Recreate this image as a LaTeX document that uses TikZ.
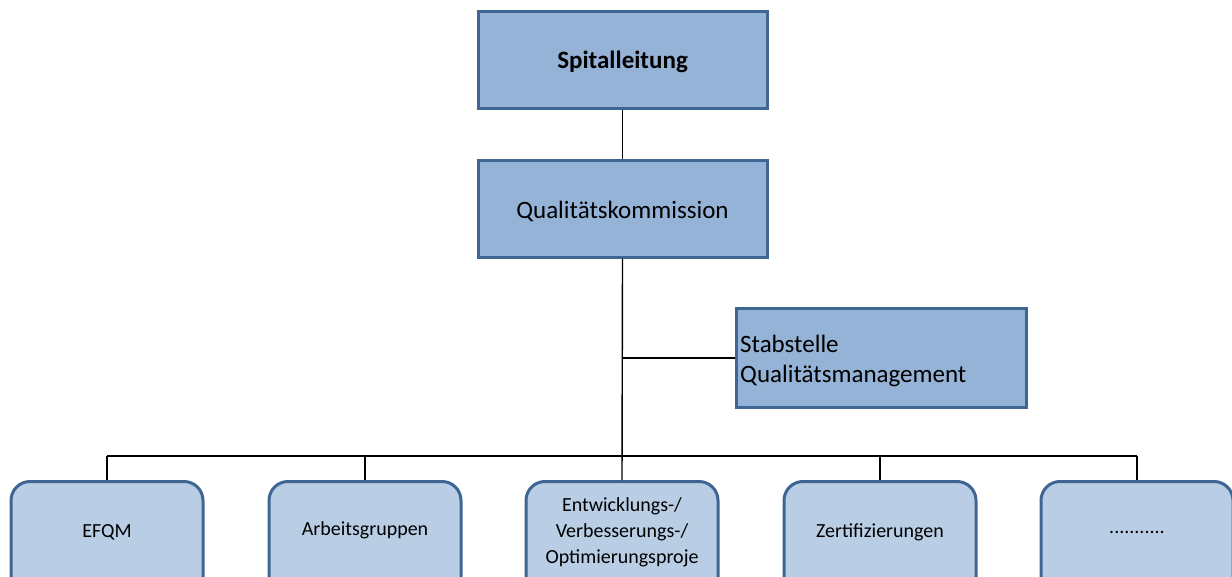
\documentclass[tikz,border=0pt]{standalone}
\usepackage{fontspec}
\setmainfont{Carlito}
\definecolor{boxedge}{HTML}{3F6592}
\definecolor{topfill}{HTML}{95B3D7}
\definecolor{leaffill}{HTML}{B9CDE5}
\begin{document}
\begin{tikzpicture}[x=1pt,y=-1pt,
  topbox/.style={draw=boxedge, fill=topfill, line width=3pt, minimum width=289pt, minimum height=97pt, inner sep=0pt, font=\fontsize{25}{29}\selectfont},
  toptext/.style={font=\fontsize{25}{30}\selectfont, inner sep=0pt},
  leafbox/.style={draw=boxedge, fill=leaffill, line width=3pt, rounded corners=19pt, minimum width=192pt, minimum height=140pt, inner sep=0pt},
  leaftext/.style={font=\fontsize{20}{26}\selectfont, align=center, inner sep=0pt},
  conn/.style={draw=black, line width=1.4pt}]
\useasboundingbox (0,0) rectangle (1232,577);
\clip (0,0) rectangle (1232,577);
% top boxes
\node[topbox] (spital) at (622.5,60.5) {};
\node[toptext, font=\bfseries\fontsize{25}{29}\selectfont] (spitalt) at (622.5,62) {Spitalleitung};
\node[topbox] (qk) at (622.5,209) {};
\node[toptext] (qkt) at (622.5,211) {Qualitätskommission};
\node[topbox, minimum width=290pt, minimum height=98pt] (stab) at (881,358) {};
\node[toptext, anchor=west, align=left] (stabt) at (740,361) {Stabstelle\\Qualitätsmanagement};
% leaf boxes
\node[leafbox, anchor=north] (efqm) at (107,480) {};
\node[leafbox, anchor=north] (arb) at (365,480) {};
\node[leafbox, anchor=north] (ent) at (622,480) {};
\node[leafbox, anchor=north] (zert) at (880,480) {};
\node[leafbox, anchor=north] (dots) at (1137,480) {};
\node[leaftext] (efqmt) at (107,532) {EFQM};
\node[leaftext] (arbt) at (365,530) {Arbeitsgruppen};
\node[leaftext] (entt) at (622,532) {Entwicklungs-/\\Verbesserungs-/\\Optimierungsproje};
\node[leaftext] (zertt) at (880,532) {Zertifizierungen};
\node[leaftext] (dotst) at (1137,532) {...........};
% connectors
\coordinate (j) at (qk.south |- stab.west);
\coordinate (busL) at (efqm.north |- 0,456);
\coordinate (busR) at (dots.north |- 0,456);
\draw[conn] (spital.south) -- (qk.north);
\draw[conn] (qk.south) -- (ent.north);
\draw[conn] (j) -- (stab.west);
\draw[conn] (busL) -- (busR);
\draw[conn] (efqm.north) -- (efqm.north |- busL);
\draw[conn] (arb.north) -- (arb.north |- busL);
\draw[conn] (zert.north) -- (zert.north |- busL);
\draw[conn] (dots.north) -- (dots.north |- busL);
\end{tikzpicture}
\end{document}
